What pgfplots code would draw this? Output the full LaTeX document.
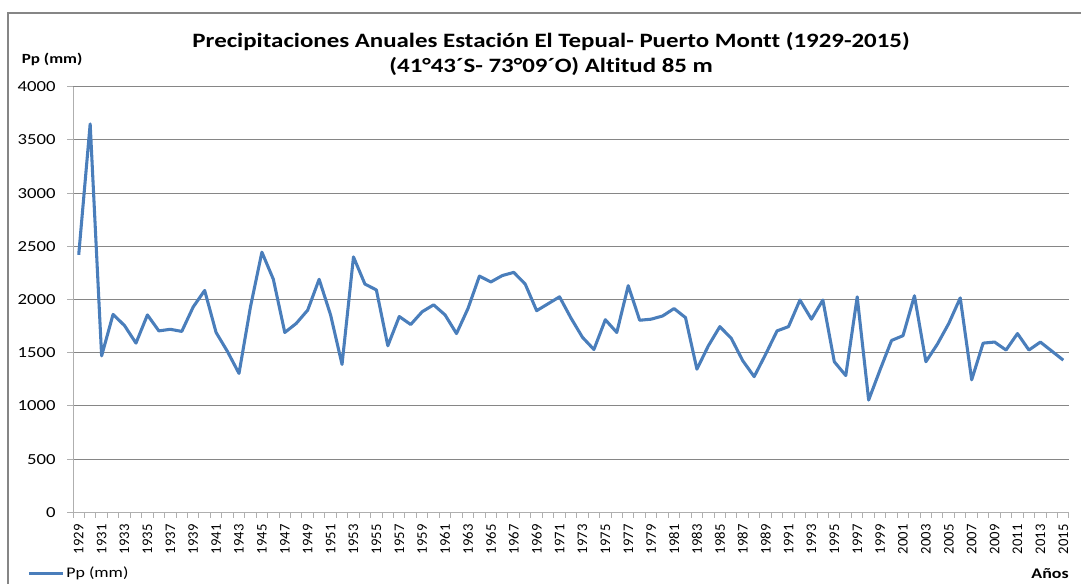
\documentclass[border=0pt]{standalone}
\usepackage{fontspec}
\setmainfont[FakeStretch=1.22,Ligatures={NoCommon}]{Carlito}
\newfontfamily\xfont[Ligatures={NoCommon}]{Carlito}
\usepackage{pgfplots}
\usepackage{pgfplotstable}
\pgfplotsset{compat=1.18}
\definecolor{serie}{RGB}{74,126,187}
\definecolor{gridc}{RGB}{134,134,134}
\definecolor{axisc}{RGB}{175,175,175}
\definecolor{framec}{RGB}{134,134,134}
\pgfplotstableread{
year pp
1929 2420
1930 3650
1931 1470
1932 1860
1933 1755
1934 1590
1935 1855
1936 1705
1937 1720
1938 1700
1939 1930
1940 2085
1941 1690
1942 1510
1943 1305
1944 1930
1945 2445
1946 2190
1947 1690
1948 1775
1949 1900
1950 2190
1951 1855
1952 1390
1953 2400
1954 2145
1955 2090
1956 1565
1957 1840
1958 1765
1959 1885
1960 1950
1961 1855
1962 1680
1963 1915
1964 2220
1965 2165
1966 2225
1967 2255
1968 2145
1969 1895
1970 1960
1971 2025
1972 1825
1973 1645
1974 1530
1975 1810
1976 1690
1977 2130
1978 1805
1979 1815
1980 1845
1981 1915
1982 1830
1983 1345
1984 1565
1985 1745
1986 1635
1987 1425
1988 1275
1989 1485
1990 1705
1991 1745
1992 1995
1993 1815
1994 1995
1995 1415
1996 1285
1997 2025
1998 1055
1999 1340
2000 1615
2001 1660
2002 2035
2003 1415
2004 1580
2005 1775
2006 2015
2007 1245
2008 1590
2009 1600
2010 1525
2011 1680
2012 1525
2013 1600
2014 1515
2015 1430
}\datatable
\begin{document}
\begin{tikzpicture}
\useasboundingbox (0,0) rectangle (810.75pt,437.25pt);
\draw[framec, line width=0.8pt] (6pt,-2pt) -- (6pt,427.5pt) -- (815pt,427.5pt);
\begin{axis}[
  at={(54.75pt,53.03pt)}, anchor=south west,
  scale only axis, width=747pt, height=319.2pt,
  xmin=1928.5, xmax=2015.5, ymin=0, ymax=4000,
  axis x line*=bottom, axis y line*=left,
  axis line style={axisc, line width=0.75pt},
  /pgf/number format/1000 sep={},
  /pgf/number format/assume math mode=true,
  ytick={0,500,...,4000},
  ymajorgrids, major grid style={gridc, line width=0.75pt},
  ytick style={axisc, line width=0.75pt},
  tick align=outside,
  major tick length=4.5pt,
  yticklabel style={font=\fontsize{11.5}{13}\selectfont, anchor=east, xshift=-5pt},
  xtick={1929,1931,...,2015},
  xtick style={draw=none},
  xticklabel style={font=\xfont\fontsize{11}{13}\selectfont, rotate=90, anchor=east, xshift=-1pt},
  extra x ticks={1928.5,1929.5,...,2015.5},
  extra x tick labels={},
  extra x tick style={xtick style={draw=axisc, line width=0.75pt}, major tick length=4pt},
  title={Precipitaciones Anuales Estación El Tepual- Puerto Montt (1929-2015)\\(41°43´S- 73°09´O) Altitud 85 m},
  title style={at={(axis description cs:0.48,1.057)}, anchor=center, align=center, font=\bfseries\fontsize{15.3}{18.75}\selectfont},
  ylabel={Pp (mm)},
  ylabel style={rotate=-90, at={(axis description cs:-0.021,1.063)}, anchor=center, font=\bfseries\fontsize{10.5}{12}\selectfont},
  xlabel={Años},
  xlabel style={at={(axis description cs:0.981,-0.143)}, anchor=center, font=\bfseries\fontsize{11}{13}\selectfont},
  legend style={at={(axis description cs:-0.0462,-0.143)}, anchor=west, draw=none, fill=none, inner sep=0pt, font=\fontsize{11}{13}\selectfont, nodes={inner sep=1pt}},
  legend cell align=left,
  legend image code/.code={\draw[#1] (0pt,0pt) -- (26pt,0pt);},
]
\addplot[serie, line width=2.3pt, line join=round, no markers] table[x=year, y=pp] {\datatable};
\addlegendentry{Pp (mm)}
\end{axis}
\end{tikzpicture}
\end{document}
